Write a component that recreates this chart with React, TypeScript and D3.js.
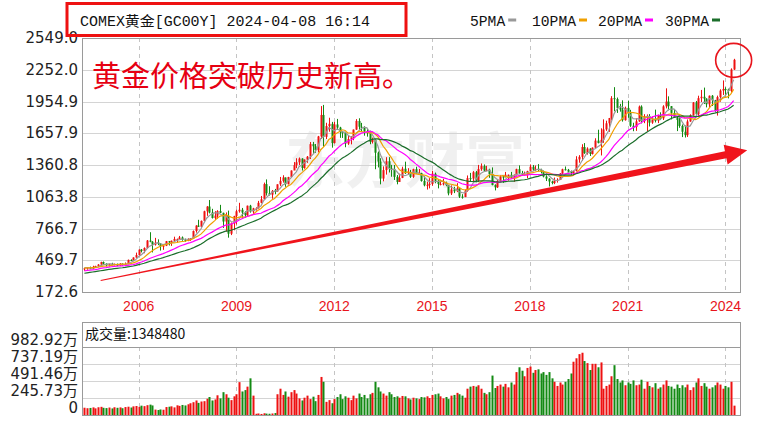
import * as d3 from 'd3'

// monthly closes 2001-11 .. 2024-04 (first 30 months only feed the moving averages)
const WARM = 30
const closes = [
  275, 279,
  282, 296, 301, 308, 326, 318, 304, 312, 323, 317, 319, 347,
  368, 347, 334, 336, 364, 346, 354, 375, 388, 384, 398, 416,
  400, 396, 426, 388, 394, 395, 391, 408, 416, 429, 453, 438,
  422, 434, 429, 436, 418, 437, 429, 433, 473, 470, 495, 518,
  569, 557, 584, 654, 643, 616, 634, 626, 600, 606, 648, 636,
  652, 669, 669, 683, 660, 650, 668, 673, 743, 794, 783, 838,
  928, 972, 916, 865, 887, 930, 913, 832, 884, 718, 815, 884,
  928, 942, 916, 891, 980, 927, 955, 955, 1007, 1040, 1182, 1097,
  1083, 1118, 1113, 1180, 1212, 1244, 1181, 1248, 1309, 1359, 1386, 1421,
  1333, 1411, 1439, 1556, 1536, 1500, 1628, 1829, 1624, 1725, 1746, 1566,
  1740, 1711, 1669, 1664, 1561, 1604, 1615, 1692, 1773, 1719, 1714, 1675,
  1663, 1578, 1597, 1476, 1393, 1234, 1313, 1396, 1328, 1323, 1250, 1202,
  1240, 1326, 1284, 1296, 1250, 1322, 1282, 1287, 1211, 1171, 1175, 1184,
  1279, 1213, 1183, 1183, 1190, 1172, 1095, 1132, 1115, 1142, 1065, 1061,
  1118, 1238, 1234, 1293, 1215, 1322, 1351, 1309, 1317, 1277, 1173, 1152,
  1211, 1253, 1249, 1268, 1268, 1242, 1269, 1322, 1283, 1271, 1275, 1303,
  1345, 1318, 1325, 1315, 1299, 1253, 1233, 1206, 1192, 1215, 1222, 1282,
  1321, 1316, 1298, 1284, 1305, 1413, 1437, 1529, 1472, 1514, 1464, 1523,
  1589, 1566, 1596, 1694, 1751, 1800, 1986, 1978, 1895, 1879, 1780, 1895,
  1850, 1728, 1716, 1769, 1907, 1771, 1817, 1819, 1757, 1784, 1776, 1829,
  1797, 1909, 1954, 1911, 1848, 1807, 1782, 1726, 1672, 1640, 1768, 1826,
  1945, 1836, 1986, 1999, 1982, 1929, 2009, 1966, 1866, 1996, 2057, 2072,
  2067, 2054, 2254, 2345,
]

// 2004-05 .. 2024-04
const highs = [
  396, 404, 410, 418, 418, 433, 456, 458,
  440, 438, 446, 438, 438, 443, 440, 449, 476, 478, 497, 541,
  571, 575, 590, 659, 732, 648, 679, 665, 631, 614, 650, 650,
  654, 690, 672, 697, 692, 672, 675, 677, 748, 797, 848, 841,
  933, 976, 1033, 951, 929, 938, 988, 915, 917, 934, 823, 885,
  942, 1007, 959, 928, 981, 988, 960, 965, 1025, 1071, 1196, 1226,
  1162, 1127, 1137, 1180, 1249, 1265, 1244, 1250, 1310, 1388, 1424, 1431,
  1424, 1413, 1445, 1576, 1577, 1557, 1633, 1912, 1923, 1756, 1803, 1764,
  1764, 1792, 1718, 1676, 1666, 1641, 1632, 1693, 1790, 1798, 1755, 1723,
  1697, 1682, 1617, 1605, 1487, 1424, 1348, 1434, 1434, 1362, 1361, 1267,
  1280, 1345, 1392, 1331, 1315, 1326, 1345, 1324, 1287, 1255, 1205, 1238,
  1307, 1290, 1220, 1224, 1232, 1205, 1175, 1170, 1157, 1191, 1146, 1088,
  1128, 1263, 1287, 1304, 1305, 1362, 1375, 1366, 1353, 1326, 1338, 1180,
  1220, 1264, 1262, 1296, 1272, 1296, 1272, 1326, 1357, 1306, 1299, 1307,
  1366, 1361, 1356, 1369, 1326, 1309, 1265, 1237, 1214, 1243, 1237, 1285,
  1326, 1347, 1324, 1309, 1306, 1443, 1453, 1555, 1566, 1526, 1518, 1525,
  1611, 1691, 1704, 1788, 1775, 1801, 2005, 2089, 1992, 1933, 1966, 1907,
  1963, 1877, 1756, 1798, 1917, 1919, 1836, 1834, 1837, 1815, 1879, 1832,
  1854, 1920, 2078, 2003, 1912, 1881, 1814, 1825, 1740, 1730, 1787, 1835,
  1950, 1960, 2009, 2063, 2085, 1985, 2011, 2015, 1970, 2010, 2069, 2152,
  2088, 2075, 2265, 2354,
]

const lows = [
  371, 382, 387, 386, 398, 410, 423, 428,
  413, 411, 423, 421, 414, 414, 418, 429, 433, 462, 468, 493,
  515, 543, 535, 580, 638, 543, 607, 611, 560, 567, 602, 608,
  604, 642, 636, 666, 652, 643, 648, 650, 671, 728, 781, 781,
  837, 885, 908, 860, 846, 858, 911, 772, 739, 681, 705, 750,
  804, 915, 867, 866, 884, 915, 902, 934, 954, 1002, 1044, 1075,
  1075, 1045, 1087, 1112, 1165, 1196, 1157, 1179, 1245, 1315, 1331, 1360,
  1309, 1326, 1381, 1417, 1463, 1475, 1479, 1604, 1532, 1604, 1672, 1523,
  1562, 1688, 1615, 1614, 1527, 1549, 1554, 1592, 1689, 1692, 1672, 1635,
  1626, 1555, 1562, 1321, 1338, 1180, 1208, 1271, 1291, 1251, 1221, 1180,
  1202, 1238, 1277, 1268, 1240, 1240, 1281, 1273, 1205, 1161, 1131, 1142,
  1167, 1190, 1142, 1170, 1170, 1162, 1077, 1080, 1098, 1107, 1052, 1046,
  1060, 1111, 1209, 1208, 1199, 1201, 1307, 1303, 1306, 1241, 1171, 1123,
  1146, 1201, 1194, 1244, 1214, 1237, 1204, 1262, 1276, 1260, 1263, 1237,
  1303, 1307, 1303, 1302, 1282, 1245, 1211, 1160, 1180, 1182, 1196, 1221,
  1276, 1310, 1281, 1266, 1266, 1300, 1382, 1400, 1465, 1458, 1445, 1459,
  1517, 1563, 1450, 1568, 1680, 1671, 1780, 1863, 1848, 1860, 1767, 1776,
  1802, 1717, 1677, 1680, 1765, 1750, 1752, 1677, 1721, 1746, 1759, 1753,
  1781, 1782, 1890, 1872, 1787, 1804, 1678, 1709, 1622, 1618, 1623, 1765,
  1823, 1810, 1810, 1950, 1932, 1900, 1902, 1913, 1859, 1823, 1953, 2016,
  2003, 1984, 2039, 2250,
]

// monthly volume, 万
const volumes = [
  105, 98, 102, 110, 96, 112, 118, 104,
  100, 108, 95, 112, 104, 110, 98, 115, 120, 108, 125, 130,
  118, 135, 128, 142, 150, 138, 78, 72, 80, 76, 115, 120,
  125, 110, 140, 132, 145, 138, 155, 170, 185, 210, 175, 195,
  200, 235, 260, 210, 225, 285, 240, 330, 300, 250, 215, 270,
  300, 475, 340, 360, 410, 530, 280, 18, 22, 15, 25, 20,
  18, 22, 28, 300, 380, 290, 340, 265, 330, 360, 310, 240,
  210, 250, 280, 230, 265, 200, 290, 550, 480, 190, 215, 170,
  230, 260, 300, 230, 270, 250, 215, 280, 240, 310, 260, 290,
  240, 300, 320, 480, 400, 340, 310, 280, 330, 300, 260, 270,
  250, 275, 270, 240, 225, 250, 240, 230, 260, 255, 270, 245,
  290, 300, 310, 270, 240, 260, 230, 280, 290, 320, 300, 280,
  250, 380, 410, 420, 410, 430, 380, 320, 300, 330, 570, 390,
  420, 440, 410, 450, 400, 470, 440, 620, 690, 640, 560, 680,
  700, 610, 650, 660, 600, 620, 580, 620, 530, 480, 420, 470,
  440, 480, 520, 600, 770, 820, 880, 900, 780, 750, 650, 740,
  740, 690, 760, 380, 420, 440, 560, 720, 520, 470, 500, 430,
  470, 450, 500, 430, 440, 510, 380, 480, 420, 400, 460, 380,
  400, 440, 500, 420, 410, 380, 440, 390, 430, 400, 440, 360,
  400, 470, 530, 420, 460, 410, 380, 400, 430, 470, 440, 380,
  420, 400, 480, 135,
]

const yearLabels = [2006, 2009, 2012, 2015, 2018, 2021, 2024]
const priceTicks = [2549.0, 2252.0, 1954.9, 1657.9, 1360.8, 1063.8, 766.7, 469.7, 172.6]
const volTicks = [982.92, 737.19, 491.46, 245.73, 0]
const maPeriods = [5, 10, 20, 30]
const maNames = ['5PMA', '10PMA', '20PMA', '30PMA']
const maColors = ['#999999', '#f0a000', '#ff00ff', '#1b6e2b']

// annotation anchors in data terms (month index, price)
const arrowFrom = { m: 6, p: 281 }
const arrowTip = { m: 244, p: 1498 }
const ringAt = { m: 239, p: 2340 }

const N = highs.length
const UP = '#ee1111'
const DOWN = '#138a13'
const MONO = '"Liberation Mono", "Noto Sans CJK SC", monospace'
const SANS = '"DejaVu Sans", "Noto Sans CJK SC", sans-serif'

export default function App() {
  const L = 82, R = 740, T = 38, B = 292
  const VT = 322, VH = 347, VB = 415

  const xm = d3.scaleLinear().domain([0, N]).range([83, 735])
  const cx = (i: number) => xm(i + 0.5)
  const y = d3.scaleLinear().domain([172.6, 2549.0]).range([B, T])
  const yv = d3.scaleLinear().domain([0, 982.92]).range([VB, VH])

  const opens = highs.map((_, i) => closes[WARM + i - 1])
  const cl = highs.map((_, i) => closes[WARM + i])
  const up = cl.map((c, i) => c >= opens[i])

  const mas = maPeriods.map((n) =>
    cl.map((_, i) => d3.mean(closes.slice(WARM + i - n + 1, WARM + i + 1)) as number)
  )
  const line = d3.line<number>().x((_, i) => cx(i)).y((v) => y(v))

  const yearX = (yr: number) => cx((yr - 2004) * 12 - 4)

  // arrow polygon
  const p0 = [cx(arrowFrom.m), y(arrowFrom.p)]
  const tip = [cx(arrowTip.m), y(arrowTip.p)]
  const dx = tip[0] - p0[0], dy = tip[1] - p0[1]
  const len = Math.hypot(dx, dy)
  const ux = dx / len, uy = dy / len
  const nx = -uy, ny = ux
  const headLen = 22
  const p1 = [tip[0] - ux * headLen, tip[1] - uy * headLen]
  const pt = (p: number[], w: number) => `${p[0] + nx * w},${p[1] + ny * w}`
  const arrowPts = [pt(p0, 0.5), pt(p1, 3.6), pt(p1, 10), `${tip[0]},${tip[1]}`, pt(p1, -10), pt(p1, -3.6), pt(p0, -0.5)].join(' ')

  return (
    <svg width={759} height={421} style={{ position: 'absolute', left: 0, top: 0, background: '#fff' }}>
      <rect width={759} height={421} fill="#fff" />

      {/* watermark */}
      <text x={285} y={183} fontFamily='"Noto Sans CJK SC", sans-serif' fontWeight={700} fontSize={60} fill="#000" opacity={0.055}>东方财富</text>

      {/* main grid */}
      {priceTicks.map((t) => (
        <line key={t} x1={L} x2={R} y1={Math.round(y(t)) + 0.5} y2={Math.round(y(t)) + 0.5} stroke="#d4d4d4" />
      ))}
      {yearLabels.map((yr) => (
        <line key={yr} x1={Math.round(yearX(yr)) + 0.5} x2={Math.round(yearX(yr)) + 0.5} y1={T} y2={B} stroke="#c4c4c4" strokeDasharray="4,4" />
      ))}

      {/* candles */}
      {cl.map((c, i) => {
        const col = up[i] ? UP : DOWN
        const x0 = Math.round(cx(i))
        const yt = y(Math.max(c, opens[i]))
        const yb = y(Math.min(c, opens[i]))
        return (
          <g key={i}>
            <line x1={x0 + 0.5} x2={x0 + 0.5} y1={y(highs[i])} y2={y(lows[i])} stroke={col} strokeWidth={1} />
            <rect x={x0 - 0.5} y={yt} width={2} height={Math.max(1, yb - yt)} fill={col} />
          </g>
        )
      })}

      {/* moving averages */}
      {mas.map((m, k) => (
        <path key={k} d={line(m) ?? ''} fill="none" stroke={maColors[k]} strokeWidth={1.2} />
      ))}

      <rect x={L + 0.5} y={T + 0.5} width={R - L} height={B - T} fill="none" stroke="#9a9a9a" />

      {/* price labels */}
      {priceTicks.map((t) => (
        <text key={t} x={78} y={y(t)} textAnchor="end" dominantBaseline="central" fontFamily={SANS} fontSize={15} fill="#222">{t.toFixed(1)}</text>
      ))}
      {yearLabels.map((yr) => (
        <text key={yr} x={yearX(yr)} y={311} textAnchor="middle" fontFamily='"Liberation Sans", sans-serif' fontSize={14} fill="#e8141c">{yr}</text>
      ))}

      {/* title & annotations */}
      <text x={92} y={87} fontFamily='"Noto Sans CJK SC", sans-serif' fontSize={29} fill="#e60012">黄金价格突破历史新高。</text>
      <polygon points={arrowPts} fill="#f0141c" />
      <ellipse cx={cx(ringAt.m)} cy={y(ringAt.p)} rx={18} ry={17} fill="none" stroke="#e8141c" strokeWidth={1.6} />

      {/* header */}
      <text x={80} y={26} fontFamily={MONO} fontSize={14} textLength={290} lengthAdjust="spacingAndGlyphs" fill="#111">COMEX黄金[GC00Y] 2024-04-08 16:14</text>
      <rect x={67} y={3.5} width={339} height={32} fill="none" stroke="#ee1111" strokeWidth={3} />
      {maNames.map((nm, k) => {
        const xs = [470, 532, 598, 665][k]
        const w = nm.length * 8.8
        return (
          <g key={nm}>
            <text x={xs} y={26} fontFamily={MONO} fontSize={14} textLength={w} lengthAdjust="spacingAndGlyphs" fill="#111">{nm}</text>
            <rect x={xs + w + 3} y={18.5} width={8} height={3} fill={maColors[k]} />
          </g>
        )
      })}

      {/* volume panel */}
      {volTicks.slice(1, 4).map((t) => (
        <line key={t} x1={L} x2={R} y1={Math.round(yv(t)) + 0.5} y2={Math.round(yv(t)) + 0.5} stroke="#d4d4d4" />
      ))}
      {yearLabels.map((yr) => (
        <line key={yr} x1={Math.round(yearX(yr)) + 0.5} x2={Math.round(yearX(yr)) + 0.5} y1={VH} y2={VB} stroke="#c4c4c4" strokeDasharray="4,4" />
      ))}
      {volumes.map((v, i) => (
        <rect key={i} x={Math.round(cx(i)) - 0.5} y={yv(v)} width={2} height={VB - yv(v)} fill={up[i] ? UP : DOWN} />
      ))}
      <rect x={L + 0.5} y={VT + 0.5} width={R - L} height={VB - VT} fill="none" stroke="#9a9a9a" />
      <line x1={L} x2={R} y1={VH + 0.5} y2={VH + 0.5} stroke="#9a9a9a" />
      <text x={85} y={339} fontFamily='"Noto Sans CJK SC", sans-serif' fontSize={14} fill="#111">成交量:1348480</text>
      {volTicks.map((t) => (
        <text key={t} x={78} y={yv(t) - 2} textAnchor="end" fontFamily={SANS} fontSize={15} fill="#222">{t === 0 ? '0' : `${t.toFixed(2)}万`}</text>
      ))}
    </svg>
  )
}
